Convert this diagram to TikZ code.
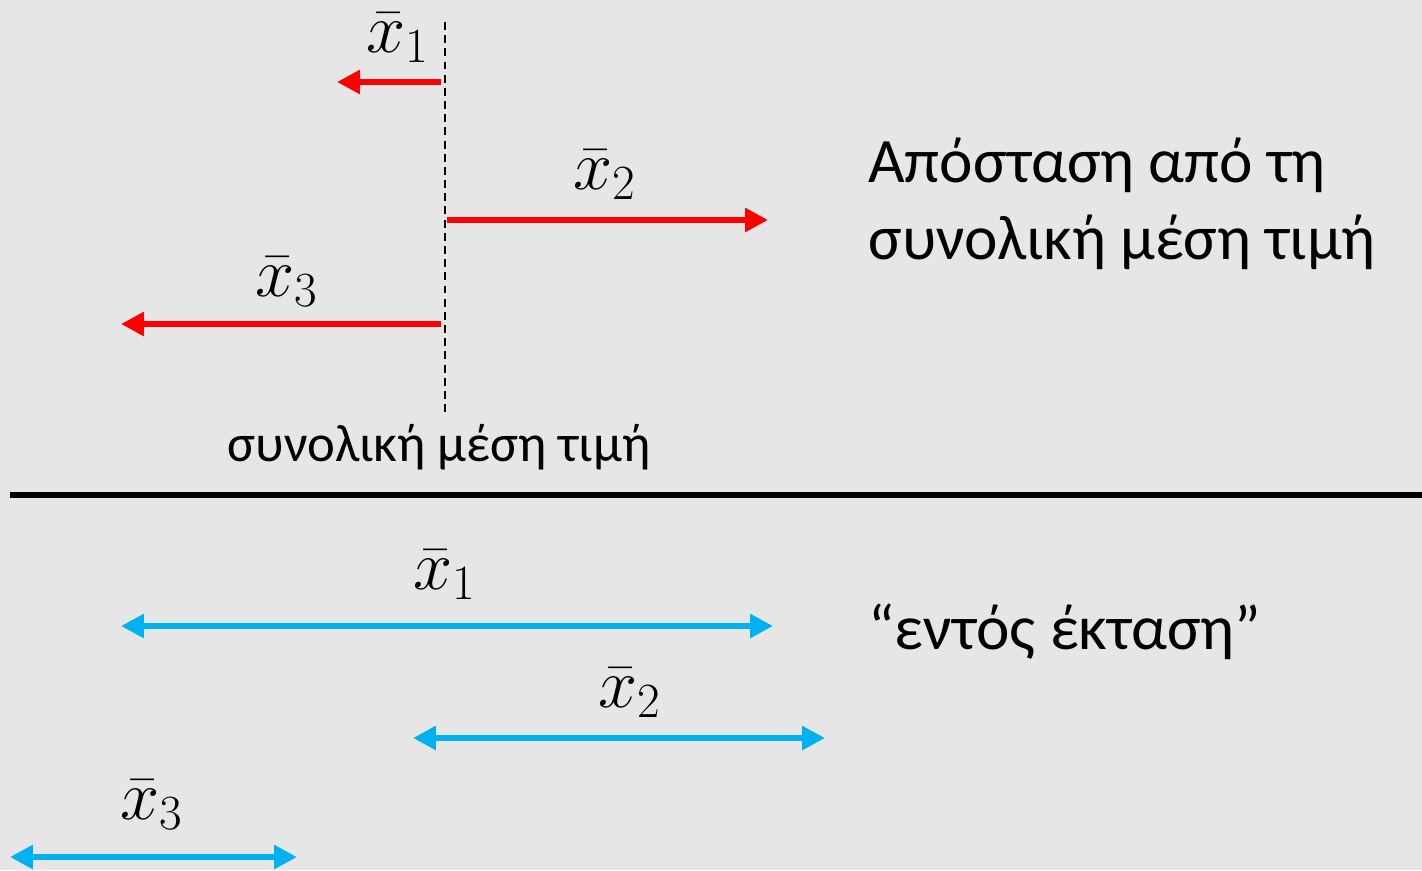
\documentclass[tikz,border=0pt]{standalone}
\usepackage{fix-cm}
\usepackage{fontspec}
\setmainfont{Carlito}
\usetikzlibrary{arrows.meta}
\definecolor{bgray}{HTML}{E6E6E6}
\definecolor{redline}{HTML}{FF0000}
\definecolor{blueline}{HTML}{00B0F0}
\begin{document}
\begin{tikzpicture}[x=0.02cm, y=-0.02cm,
  redarrow/.style={draw=redline, line width=3.9pt, -{Triangle[length=13pt, width=13pt]}},
  bluearrow/.style={draw=blueline, line width=3.9pt, {Triangle[length=13pt, width=13pt]}-{Triangle[length=13pt, width=13pt]}},
  lbl/.style={inner sep=0pt, font=\fontsize{40}{44}\selectfont},
  smalltext/.style={inner sep=0pt, font=\fontsize{30}{34}\selectfont},
  bigtext/.style={inner sep=0pt, align=left, anchor=west, font=\fontsize{36}{44}\selectfont}]
  % background
  \fill[bgray] (0,0) rectangle (1422,870);
  \useasboundingbox (0,0) rectangle (1422,870);

  % overall mean marker
  \coordinate (mtop) at (445,22);
  \coordinate (mbot) at (445,415);
  \draw[black, line width=1.3pt, dash pattern=on 4.5pt off 3pt] (mtop) -- (mbot);
  \node[smalltext] (meanlbl) at (439,447) {συνολική μέση τιμή};

  % distances of the group means from the overall mean
  \coordinate (r1s) at (441,82);  \coordinate (r1e) at (337,82);
  \coordinate (r2s) at (447,220); \coordinate (r2e) at (768,220);
  \coordinate (r3s) at (441,324); \coordinate (r3e) at (121,324);
  \draw[redarrow] (r1s) -- (r1e);
  \draw[redarrow] (r2s) -- (r2e);
  \draw[redarrow] (r3s) -- (r3e);
  \node[lbl] (rx1) at (398,38) {$\bar{x}_1$};
  \node[lbl] (rx2) at (605,175) {$\bar{x}_2$};
  \node[lbl] (rx3) at (287,282) {$\bar{x}_3$};

  \node[bigtext] (between) at (868,204) {Απόσταση από τη\\συνολική μέση τιμή};

  % separator
  \coordinate (sepl) at (10,495);
  \coordinate (sepr) at (1422,495);
  \draw[black, line width=3pt] (sepl) -- (sepr);

  % spread within each group
  \coordinate (b1s) at (121,626); \coordinate (b1e) at (773,626);
  \coordinate (b2s) at (413,738); \coordinate (b2e) at (825,738);
  \coordinate (b3s) at (10,857);  \coordinate (b3e) at (297,857);
  \draw[bluearrow] (b1s) -- (b1e);
  \draw[bluearrow] (b2s) -- (b2e);
  \draw[bluearrow] (b3s) -- (b3e);
  \node[lbl] (bx1) at (445,575) {$\bar{x}_1$};
  \node[lbl] (bx2) at (630,693) {$\bar{x}_2$};
  \node[lbl] (bx3) at (152,805) {$\bar{x}_3$};

  \node[bigtext] (within) at (868,632) {“εντός έκταση”};
\end{tikzpicture}
\end{document}
